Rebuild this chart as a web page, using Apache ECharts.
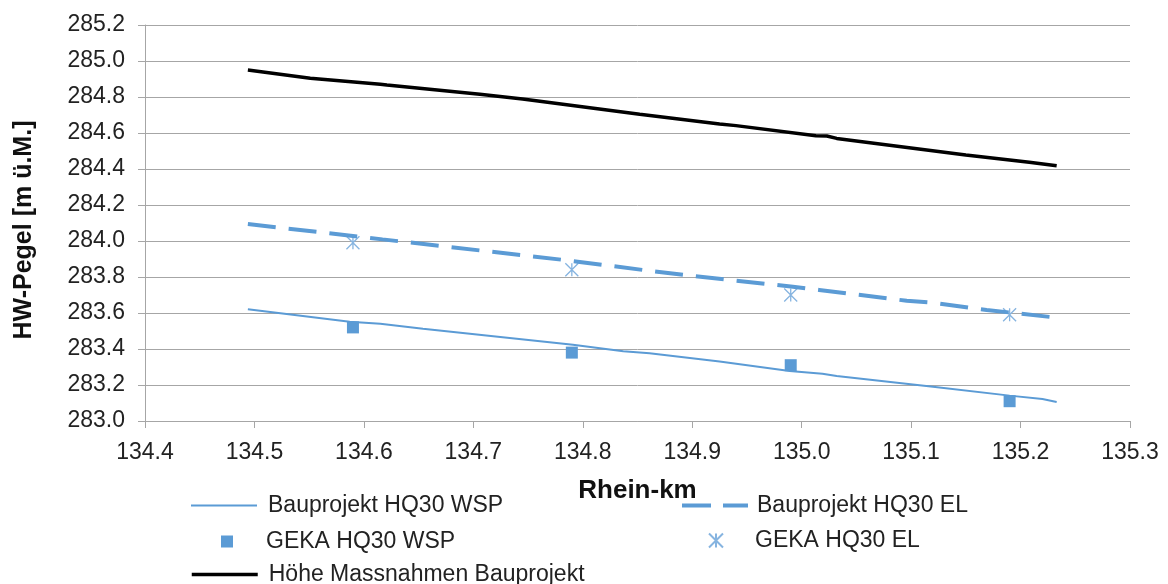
<!DOCTYPE html>
<html>
<head>
<meta charset="utf-8">
<script src="https://cdn.jsdelivr.net/npm/echarts@6/dist/echarts.min.js"></script>
<style>
  html, body { margin: 0; padding: 0; background: #fff; }
  #chart { width: 1168px; height: 584px; }
</style>
</head>
<body>
<div id="chart"></div>
<script>
// Bauprojekt HQ30 WSP
const wspKm = [134.494, 134.587, 134.615, 134.654, 134.791, 134.837, 134.861, 134.925, 134.989, 135.019, 135.032, 135.120, 135.190, 135.220, 135.233];
const wspVal = [283.621, 283.552, 283.540, 283.513, 283.424, 283.387, 283.376, 283.330, 283.278, 283.263, 283.250, 283.190, 283.141, 283.122, 283.106];
// Bauprojekt HQ30 EL
const elKm = [134.494, 134.596, 134.617, 134.788, 134.855, 134.900, 134.992, 135.016, 135.096, 135.120, 135.169, 135.233];
const elVal = [284.094, 284.024, 284.009, 283.891, 283.839, 283.806, 283.746, 283.728, 283.668, 283.657, 283.617, 283.574];
// Höhe Massnahmen Bauprojekt
const hoeheKm = [134.494, 134.551, 134.615, 134.621, 134.706, 134.745, 134.852, 134.925, 134.940, 135.013, 135.023, 135.032, 135.150, 135.208, 135.233];
const hoeheVal = [284.950, 284.904, 284.871, 284.867, 284.815, 284.789, 284.704, 284.650, 284.641, 284.585, 284.583, 284.570, 284.478, 284.437, 284.418];
// GEKA points
const gekaKm = [134.59, 134.79, 134.99, 135.19];
const gekaWsp = [283.52, 283.38, 283.31, 283.11];
const gekaEl = [283.99, 283.84, 283.70, 283.59];

const names = ['Bauprojekt HQ30 WSP', 'Bauprojekt HQ30 EL', 'GEKA HQ30 WSP', 'GEKA HQ30 EL', 'Höhe Massnahmen Bauprojekt'];

const pairs = (xs, ys) => xs.map((x, i) => [x, ys[i]]);

const FONT = 'Liberation Sans, Arial, sans-serif';
const GRAY = '#a6a6a6';
const BLUE = '#5b9bd5';
const STAR = 'path://M0,0 L10,10 M10,0 L0,10 M5,0 L5,10';
const SQUARE = 'path://M0,0 L10,0 L10,10 L0,10 Z';

var myChart = echarts.init(document.getElementById('chart'));

// one legend per entry so every entry sits where the reference has it
function legendAt(name, left, top, w, h, textPad, line) {
  var l = {
    data: [name],
    left: left,
    top: top,
    itemWidth: w,
    itemHeight: h,
    padding: 0,
    selectedMode: false,
    textStyle: { fontFamily: FONT, fontSize: 23, color: '#222', padding: [0, 0, 0, textPad] }
  };
  if (line) {
    // hide the dot ECharts puts on line legend icons
    l.itemStyle = { color: 'transparent', borderColor: 'transparent', borderWidth: 0 };
    l.lineStyle = line;
  }
  return l;
}

var option = {
  animation: false,
  backgroundColor: '#fff',
  grid: { left: 145, right: 38, top: 25, bottom: 163 },
  legend: [
    legendAt(names[0], 190, 494, 66, 14, 6, { color: BLUE, width: 2, type: 'solid' }),
    legendAt(names[1], 680, 494, 66, 14, 4, { color: BLUE, width: 4, type: [29, 12] }),
    legendAt(names[2], 221, 530, 12, 12, 28, null),
    legendAt(names[3], 708, 529, 14, 14, 27, null),
    legendAt(names[4], 190, 563, 66, 14, 6, { color: '#000', width: 3.5, type: 'solid' })
  ],
  xAxis: {
    type: 'value',
    min: 134.4,
    max: 135.3,
    interval: 0.1,
    name: 'Rhein-km',
    nameLocation: 'middle',
    nameGap: 57,
    nameTextStyle: { fontFamily: FONT, fontSize: 26, fontWeight: 'bold', color: '#111' },
    axisLine: { show: true, lineStyle: { color: GRAY, width: 1 } },
    axisTick: { show: true, inside: false, length: 7, lineStyle: { color: GRAY } },
    splitLine: { show: false },
    axisLabel: {
      margin: 20,
      fontFamily: FONT, fontSize: 23, color: '#222',
      formatter: v => v.toFixed(1)
    }
  },
  yAxis: {
    type: 'value',
    min: 283.0,
    max: 285.2,
    interval: 0.2,
    name: 'HW-Pegel [m ü.M.]',
    nameLocation: 'middle',
    nameGap: 108,
    nameRotate: 90,
    nameTextStyle: { fontFamily: FONT, fontSize: 25, fontWeight: 'bold', color: '#111', padding: [0, 14, 0, 0] },
    axisLine: { show: true, lineStyle: { color: GRAY, width: 1 } },
    axisTick: { show: true, inside: false, length: 7, lineStyle: { color: GRAY } },
    splitLine: { show: true, lineStyle: { color: GRAY, width: 1 } },
    axisLabel: {
      margin: 20,
      fontFamily: FONT, fontSize: 23, color: '#222',
      formatter: v => v.toFixed(1)
    }
  },
  series: [
    {
      name: names[0], type: 'line', data: pairs(wspKm, wspVal),
      symbol: 'none', color: BLUE,
      lineStyle: { color: BLUE, width: 2 }
    },
    {
      name: names[1], type: 'line', data: pairs(elKm, elVal),
      symbol: 'none', color: BLUE,
      lineStyle: { color: BLUE, width: 4, type: [28, 13] }
    },
    {
      name: names[2], type: 'scatter', data: pairs(gekaKm, gekaWsp),
      symbol: SQUARE, symbolSize: 12,
      itemStyle: { color: BLUE, opacity: 1 }
    },
    {
      name: names[3], type: 'scatter', data: pairs(gekaKm, gekaEl),
      symbol: STAR, symbolSize: 13,
      itemStyle: { color: 'transparent', borderColor: '#86b4e0', borderWidth: 1.3, opacity: 1 }
    },
    {
      name: names[4], type: 'line', data: pairs(hoeheKm, hoeheVal),
      symbol: 'none', color: '#000',
      lineStyle: { color: '#000', width: 3.5 }
    }
  ]
};

myChart.setOption(option);
</script>
</body>
</html>
